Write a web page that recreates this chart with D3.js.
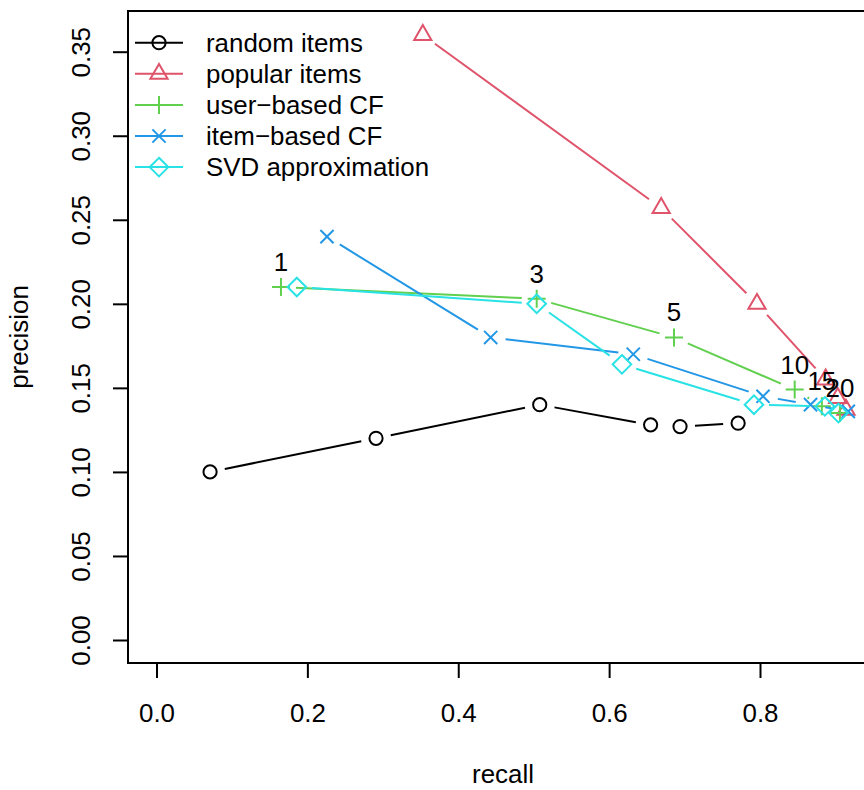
<!DOCTYPE html>
<html>
<head>
	<meta charset="utf-8">
	<title>precision vs recall</title>
	<script src="https://d3js.org/d3.v7.min.js" charset="utf-8"></script>
	<style>
		body { margin:0; background:#fff; }
		text { font-family:"Liberation Sans", Arial, sans-serif; }
	</style>
</head>
<body>
	<script>
	var w = 864;
	var h = 790;
	var fs = "25.9px";

	// top-N list sizes (labels on the user-based CF curve)
	var nLabels = ["1", "3", "5", "10", "15", "20"];
	var seriesNames = ["random items", "popular items", "user\u2212based CF", "item\u2212based CF", "SVD approximation"];
	var seriesColors = ["#000000", "#DF536B", "#61D04F", "#2297E6", "#28E2E5"];
	var seriesShapes = ["circle", "triangle", "plus", "cross", "diamond"];

	var randomRecall    = [0.071, 0.291, 0.508, 0.655, 0.694, 0.771];
	var randomPrec      = [0.100, 0.120, 0.140, 0.128, 0.127, 0.129];
	var popularRecall   = [0.353, 0.669, 0.796, 0.887, 0.903, 0.914];
	var popularPrec     = [0.360, 0.257, 0.200, 0.155, 0.144, 0.137];
	var userRecall      = [0.165, 0.504, 0.686, 0.846, 0.882, 0.906];
	var userPrec        = [0.210, 0.203, 0.180, 0.149, 0.139, 0.135];
	var itemRecall      = [0.226, 0.443, 0.632, 0.804, 0.867, 0.917];
	var itemPrec        = [0.240, 0.180, 0.170, 0.145, 0.140, 0.136];
	var svdRecall       = [0.186, 0.504, 0.617, 0.792, 0.886, 0.904];
	var svdPrec         = [0.210, 0.200, 0.164, 0.140, 0.139, 0.135];

	var xTicks = [0, 0.2, 0.4, 0.6, 0.8];
	var yTicks = [0, 0.05, 0.10, 0.15, 0.20, 0.25, 0.30, 0.35];

	var recalls = [randomRecall, popularRecall, userRecall, itemRecall, svdRecall];
	var precs = [randomPrec, popularPrec, userPrec, itemPrec, svdPrec];

	var x = d3.scaleLinear().domain([0, 0.8]).range([156.5, 760]);
	var y = d3.scaleLinear().domain([0, 0.35]).range([640, 51.7]);

	// plot box (R adds 4% on each side)
	var box = {left:128, top:11, right:880, bottom:663};

	var svg = d3.select("body").append("svg")
		.attr("width", w)
		.attr("height", h);

	svg.append("rect")
		.attr("x", box.left).attr("y", box.top)
		.attr("width", box.right - box.left).attr("height", box.bottom - box.top)
		.attr("fill", "none").attr("stroke", "#000").attr("stroke-width", 2);

	// axes
	var xAxis = svg.append("g")
		.attr("transform", "translate(0," + box.bottom + ")")
		.call(d3.axisBottom(x).tickValues(xTicks).tickSize(15).tickPadding(26).tickFormat(d3.format(".1f")));
	var yAxis = svg.append("g")
		.attr("transform", "translate(" + box.left + ",0)")
		.call(d3.axisLeft(y).tickValues(yTicks).tickSize(15).tickFormat(d3.format(".2f")));
	[xAxis, yAxis].forEach(function(a){
		a.select(".domain").remove();
		a.selectAll(".tick line").attr("stroke", "#000").attr("stroke-width", 2);
		a.selectAll(".tick text").attr("fill", "#000").style("font-size", fs)
			.style("font-family", "'Liberation Sans', Arial, sans-serif");
	});
	yAxis.selectAll(".tick text")
		.attr("transform", "rotate(-90)")
		.attr("x", 0).attr("y", -38).attr("dy", 0)
		.attr("text-anchor", "middle");

	svg.append("text").text("recall")
		.attr("x", 503).attr("y", 783)
		.attr("text-anchor", "middle").style("font-size", fs);
	svg.append("text").text("precision")
		.attr("transform", "translate(28," + ((box.top + box.bottom) / 2) + ") rotate(-90)")
		.attr("text-anchor", "middle").style("font-size", fs);

	function marker(g, shape, cx, cy, col){
		if (shape == "circle") {
			g.append("circle").attr("cx", cx).attr("cy", cy).attr("r", 6.6)
				.attr("fill", "none").attr("stroke", col).attr("stroke-width", 2);
			return;
		}
		var d;
		if (shape == "triangle") d = "M" + (cx - 8.6) + "," + (cy + 5) + "L" + cx + "," + (cy - 9.9) + "L" + (cx + 8.6) + "," + (cy + 5) + "Z";
		if (shape == "plus") d = "M" + (cx - 9) + "," + cy + "H" + (cx + 9) + "M" + cx + "," + (cy - 9) + "V" + (cy + 9);
		if (shape == "cross") d = "M" + (cx - 6.6) + "," + (cy - 6.6) + "L" + (cx + 6.6) + "," + (cy + 6.6) + "M" + (cx - 6.6) + "," + (cy + 6.6) + "L" + (cx + 6.6) + "," + (cy - 6.6);
		if (shape == "diamond") d = "M" + cx + "," + (cy - 9.3) + "L" + (cx + 9.3) + "," + cy + "L" + cx + "," + (cy + 9.3) + "L" + (cx - 9.3) + "," + cy + "Z";
		g.append("path").attr("d", d)
			.attr("fill", "none").attr("stroke", col).attr("stroke-width", 2);
	}

	// type="b": segments with gaps around the points
	var gap = 15;
	recalls.forEach(function(rx, k){
		var g = svg.append("g");
		var pts = rx.map(function(v, i){ return [x(v), y(precs[k][i])]; });
		for (var i = 0; i < pts.length - 1; i++) {
			var a = pts[i], b = pts[i + 1];
			var dx = b[0] - a[0], dy = b[1] - a[1];
			var len = Math.sqrt(dx * dx + dy * dy);
			if (len <= 2 * gap) continue;
			var ux = dx / len, uy = dy / len;
			g.append("line")
				.attr("x1", a[0] + ux * gap).attr("y1", a[1] + uy * gap)
				.attr("x2", b[0] - ux * gap).attr("y2", b[1] - uy * gap)
				.attr("stroke", seriesColors[k]).attr("stroke-width", 2);
		}
		pts.forEach(function(p){ marker(g, seriesShapes[k], p[0], p[1], seriesColors[k]); });
	});

	// list-size labels above the user-based CF points
	svg.selectAll(".nlab")
		.data(nLabels)
		.enter()
		.append("text")
		.attr("class", "nlab")
		.text(function(d){ return d; })
		.attr("x", function(d, i){ return x(userRecall[i]); })
		.attr("y", function(d, i){ return y(userPrec[i]) - 16; })
		.attr("text-anchor", "middle")
		.style("font-size", fs);

	// legend
	var leg = svg.selectAll(".leg")
		.data(seriesNames)
		.enter()
		.append("g")
		.attr("class", "leg")
		.attr("transform", function(d, i){ return "translate(0," + (42.7 + i * 31.1) + ")"; });
	leg.append("line")
		.attr("x1", 135).attr("x2", 183).attr("y1", 0).attr("y2", 0)
		.attr("stroke", function(d, i){ return seriesColors[i]; }).attr("stroke-width", 2);
	leg.each(function(d, i){ marker(d3.select(this), seriesShapes[i], 159, 0, seriesColors[i]); });
	leg.append("text")
		.text(function(d){ return d; })
		.attr("x", 206).attr("y", 0).attr("dy", "0.36em")
		.style("font-size", fs);
	</script>
</body>
</html>
